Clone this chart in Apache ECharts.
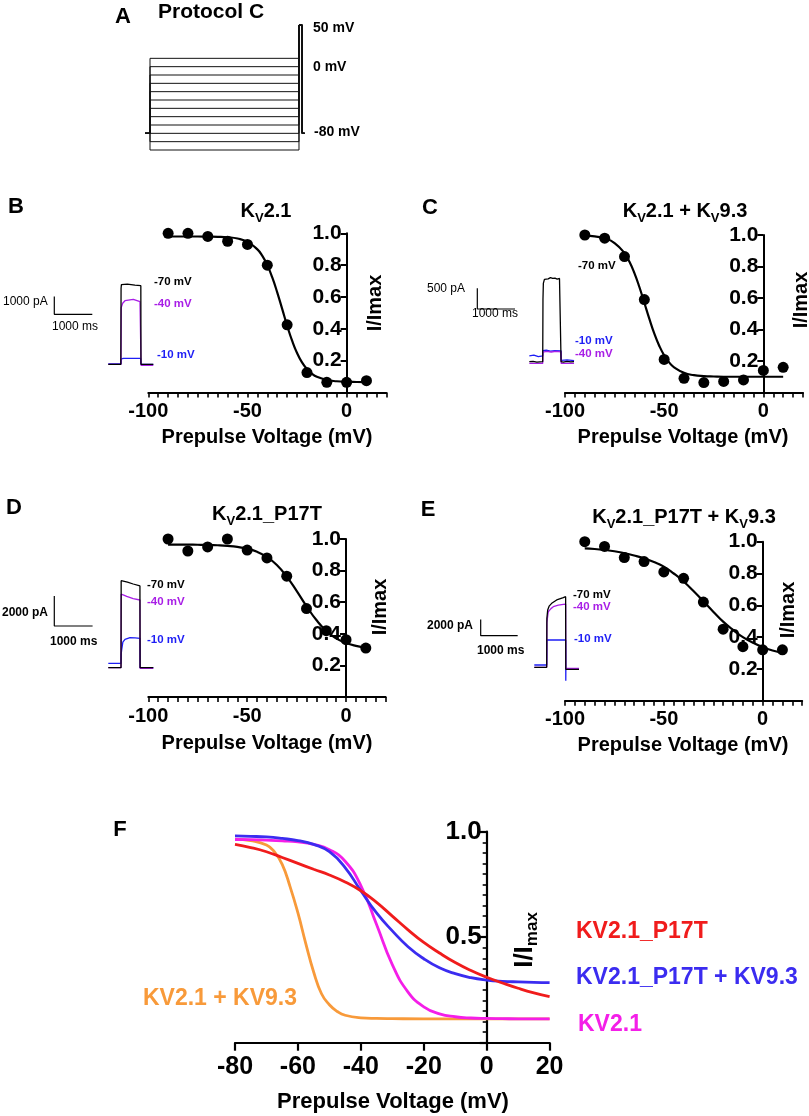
<!DOCTYPE html>
<html><head><meta charset="utf-8">
<script src="https://cdn.jsdelivr.net/npm/echarts@6.0.0/dist/echarts.min.js"></script>
<style>html,body{margin:0;padding:0;background:#fff}#c{width:809px;height:1116px}</style>
</head><body><div id="c"></div>
<script>
// ---------------- DATA ----------------
// Panel A protocol (mV, ms)
const protocolV = [10, 0, -10, -20, -30, -40, -50, -60, -70, -80, -90, -100];
const holdingV = -80;
const testV = 50;
const protocolT = [0, 167, 5133, 5240, 5320]; // hold start, prepulse start, prepulse end, test end, end

// Prepulse voltages of measured points (mV)
const prepulseV = [-90, -80, -70, -60, -50, -40, -30, -20, -10, 0, 10];
const B_points = [1.00, 1.00, 0.98, 0.95, 0.93, 0.80, 0.425, 0.125, 0.064, 0.064, 0.074];
const C_points = [1.00, 0.98, 0.863, 0.59, 0.21, 0.09, 0.063, 0.07, 0.08, 0.14, 0.16];
const D_points = [1.00, 0.924, 0.95, 1.00, 0.93, 0.88, 0.765, 0.56, 0.42, 0.363, 0.31];
const E_points = [1.00, 0.97, 0.90, 0.875, 0.81, 0.77, 0.62, 0.45, 0.34, 0.32, 0.32];

// Fit curves
const B_fitV = [-90,-85,-80,-75,-70,-65,-60,-55,-50,-45,-42.5,-40,-37.5,-35,-32.5,-30,-27.5,-25,-22.5,-20,-17.5,-15,-10,-5,0,5,10];
const B_fitI = [0.98,0.98,0.98,0.98,0.979,0.978,0.975,0.967,0.946,0.899,0.858,0.80,0.723,0.629,0.525,0.42,0.326,0.248,0.189,0.147,0.118,0.099,0.079,0.0705,0.067,0.066,0.065];
const C_fitV = [-90,-85,-80,-75,-70,-67.5,-65,-62.5,-60,-57.5,-55,-52.5,-50,-47.5,-45,-40,-35,-30,-25,-20,-10,0,10];
const C_fitI = [0.9965,0.991,0.979,0.949,0.884,0.83,0.758,0.67,0.57,0.469,0.375,0.297,0.236,0.191,0.16,0.125,0.11,0.104,0.1015,0.10,0.10,0.10,0.10];
const D_fitV = [-90,-85,-80,-75,-70,-65,-60,-55,-50,-45,-40,-35,-30,-25,-20,-15,-10,-5,0,5,10];
const D_fitI = [0.965,0.9645,0.964,0.9635,0.9625,0.9603,0.9565,0.95,0.938,0.919,0.886,0.835,0.762,0.672,0.575,0.487,0.418,0.371,0.342,0.324,0.313];
const E_fitV = [-90,-85,-80,-75,-70,-65,-60,-55,-50,-45,-40,-35,-30,-25,-20,-15,-10,-5,0,5,10];
const E_fitI = [0.958,0.954,0.948,0.94,0.928,0.913,0.895,0.872,0.843,0.80,0.75,0.69,0.625,0.56,0.497,0.445,0.40,0.365,0.337,0.316,0.302];

// Current traces (time ms, current pA)
const B_trBlack  = [[0,0],[330,0],[336,4300],[345,4500],[360,4576],[500,4530],[700,4470],[856,4440],[860,0],[1184,0]];
const B_trPurple = [[0,0],[334,0],[340,3200],[378,3446],[439,3593],[658,3672],[834,3537],[858,3500],[862,-60],[1184,-60]];
const B_trBlue   = [[0,20],[334,20],[340,300],[400,339],[850,335],[860,0],[1184,0]];
const B_bar = {t0: -1421, i0: 2825, ms: 1000, pA: 1000};

const C_trBlue   = [[0,140],[120,160],[240,125],[355,140],[360,265],[450,280],[560,255],[680,270],[841,262],[845,30],[1000,45],[1186,25]];
const C_trPurple = [[0,-40],[355,-40],[360,230],[460,250],[580,235],[700,252],[841,240],[845,-40],[1186,-40]];
const C_trBlack  = [[0,0],[100,10],[200,-10],[355,0],[362,1500],[372,1890],[400,1990],[440,2020],[500,2000],[560,2030],[620,2010],[680,2020],[740,1995],[800,2010],[838,1990],[842,0],[900,-10],[1000,10],[1100,-5],[1186,0]];
const C_bar = {t0: -1379, i0: 1273, ms: 1000, pA: 500};

const D_trBlue   = [[0,290],[332,290],[336,900],[349,1180],[380,1700],[436,1890],[567,2000],[700,1990],[826,1960],[830,0],[1175,0]];
const D_trPurple = [[0,0],[332,0],[336,4900],[376,4950],[420,4820],[480,4750],[650,4600],[826,4513],[830,-50],[1175,-50]];
const D_trBlack  = [[0,0],[332,0],[336,5800],[345,5850],[500,5700],[650,5580],[826,5450],[830,0],[1175,0]];
const D_bar = {t0: -1410, i0: 2780, ms: 1000, pA: 2000};

const E_trBlue   = [[0,280],[335,280],[338,3350],[849,3350],[851,-1640],[853,-200],[1208,-200]];
const E_trPurple = [[0,0],[335,0],[340,5500],[378,6820],[450,7200],[514,7430],[650,7620],[784,7730],[847,7760],[851,-150],[1208,-150]];
const E_trBlack  = [[0,0],[335,0],[340,6000],[362,7030],[400,7500],[470,7850],[605,8260],[784,8540],[847,8660],[851,-250],[1208,-250]];
const E_bar = {t0: -1449, i0: 3877, ms: 1000, pA: 2000};

// Panel F summary curves
const F_orangeV = [-80,-75,-70,-67.5,-65,-62.5,-60,-57.5,-55,-52.5,-50,-47.5,-45,-40,-35,-30,-20,-10,0,10,20];
const F_orangeI = [0.965,0.958,0.937,0.905,0.845,0.74,0.615,0.47,0.335,0.232,0.18,0.148,0.13,0.118,0.115,0.114,0.113,0.113,0.113,0.113,0.113];
const F_V = [-80,-75,-70,-65,-60,-55,-50,-45,-40,-35,-30,-25,-20,-15,-10,-5,0,5,10,15,20];
const F_magentaI = [0.963,0.962,0.96,0.957,0.952,0.94,0.915,0.86,0.745,0.56,0.37,0.24,0.17,0.137,0.123,0.117,0.115,0.114,0.113,0.113,0.113];
const F_blueI    = [0.98,0.978,0.975,0.968,0.958,0.94,0.905,0.83,0.72,0.615,0.53,0.455,0.398,0.355,0.327,0.308,0.297,0.291,0.288,0.286,0.285];
const F_redI     = [0.94,0.925,0.905,0.878,0.85,0.822,0.795,0.762,0.72,0.665,0.6,0.535,0.475,0.425,0.38,0.342,0.31,0.283,0.258,0.236,0.218];

// ---------------- STYLE / LAYOUT ----------------
const FONT = '"Liberation Sans", Arial, Helvetica, sans-serif';
const BLK = '#000';
const PURPLE = '#a81ee6';
const TBLUE = '#1e1ef5';
const RED = '#f01c1c', BLUE = '#3b2cf0', MAGENTA = '#f41ee8', ORANGE = '#f89a3a';

const zip = (a, b) => a.map((v, i) => [v, b[i]]);

const grids = [], xAxes = [], yAxes = [], series = [];

function addGrid(g, xa, ya) {
  grids.push(Object.assign({containLabel: false}, g));
  const gi = grids.length - 1;
  xAxes.push(Object.assign({gridIndex: gi, type: 'value'}, xa));
  yAxes.push(Object.assign({gridIndex: gi, type: 'value'}, ya));
  return gi;
}
const hidden = {show: false};

// Panel A
{
  const gi = addGrid({left: 145, top: 25, width: 159, height: 125},
    Object.assign({min: 0, max: 5300}, hidden), Object.assign({min: -100, max: 50}, hidden));
  protocolV.forEach(v => {
    const t = protocolT;
    series.push({type: 'line', xAxisIndex: gi, yAxisIndex: gi, symbol: 'none', silent: true,
      lineStyle: {color: '#111', width: 1}, clip: false,
      data: [[t[0], holdingV], [t[1], holdingV], [t[1], v], [t[2], v], [t[2], testV], [t[3], testV], [t[3], holdingV], [t[4], holdingV]]});
  });
}

function ivPanel(g, pts, fitV, fitI) {
  const gi = addGrid(g, {
    min: -100, max: 20, interval: 5,
    axisLine: {onZero: false, lineStyle: {color: BLK, width: 2}},
    axisTick: {length: 5, lineStyle: {color: BLK, width: 1.6}},
    axisLabel: {fontSize: 20, fontWeight: 'bold', color: BLK, fontFamily: FONT, margin: 9,
      formatter: v => (v % 50 === 0 ? String(v) : '')},
    splitLine: {show: false}
  }, {
    min: 0, max: 1, interval: 0.2, position: 'left', offset: -(g.width * 100 / 120),
    axisLine: {show: true, onZero: false, lineStyle: {color: BLK, width: 2}},
    axisTick: {show: true, length: 6, lineStyle: {color: BLK, width: 2}},
    axisLabel: {fontSize: 21, fontWeight: 'bold', color: BLK, fontFamily: FONT, margin: 5,
      formatter: v => (v === 0 ? '' : v.toFixed(1))},
    splitLine: {show: false}
  });
  series.push({type: 'line', xAxisIndex: gi, yAxisIndex: gi, symbol: 'none', smooth: 0.5,
    lineStyle: {color: BLK, width: 2.2}, data: zip(fitV, fitI), z: 3});
  series.push({type: 'scatter', xAxisIndex: gi, yAxisIndex: gi, symbol: 'circle', symbolSize: 11,
    itemStyle: {color: BLK, opacity: 1}, data: zip(prepulseV, pts), z: 4});
}

function tracePanel(g, xr, yr, traces, bar) {
  const gi = addGrid(g, Object.assign({min: xr[0], max: xr[1]}, hidden), Object.assign({min: yr[0], max: yr[1]}, hidden));
  traces.forEach(([d, c]) => series.push({type: 'line', xAxisIndex: gi, yAxisIndex: gi, symbol: 'none',
    lineStyle: {color: c, width: 1.3}, data: d}));
  series.push({type: 'line', xAxisIndex: gi, yAxisIndex: gi, symbol: 'none', lineStyle: {color: BLK, width: 1.2},
    data: [[bar.t0, bar.i0 + bar.pA], [bar.t0, bar.i0], [bar.t0 + bar.ms, bar.i0]]});
}

ivPanel({left: 148.3, top: 233.3, width: 238, height: 159.2}, B_points, B_fitV, B_fitI);
tracePanel({left: 51.3, top: 275.8, width: 106.4, height: 97.35}, [-1500, 1300], [-500, 5000],
  [[B_trBlue, TBLUE], [B_trPurple, PURPLE], [B_trBlack, BLK]], B_bar);

ivPanel({left: 565, top: 235, width: 238, height: 157.5}, C_points, C_fitV, C_fitI);
tracePanel({left: 472.75, top: 270.6, width: 105.6, height: 99.4}, [-1500, 1300], [-200, 2200],
  [[C_trBlue, TBLUE], [C_trPurple, PURPLE], [C_trBlack, BLK]], C_bar);

ivPanel({left: 148.3, top: 539, width: 237.3, height: 158}, D_points, D_fitV, D_fitI);
tracePanel({left: 50.85, top: 570.2, width: 107.24, height: 105}, [-1500, 1300], [-500, 6500],
  [[D_trBlue, TBLUE], [D_trPurple, PURPLE], [D_trBlack, BLK]], D_bar);

ivPanel({left: 565, top: 541.7, width: 237.2, height: 159}, E_points, E_fitV, E_fitI);
tracePanel({left: 475.1, top: 593.95, width: 107.3, height: 89.65}, [-1600, 1300], [-2000, 9000],
  [[E_trBlue, TBLUE], [E_trPurple, PURPLE], [E_trBlack, BLK]], E_bar);

// Panel F
{
  const g = {left: 235, top: 831.7, width: 314.6, height: 211};
  const gi = addGrid(g, {
    min: -80, max: 20, interval: 20,
    axisLine: {onZero: false, lineStyle: {color: BLK, width: 2.2}},
    axisTick: {length: 8, lineStyle: {color: BLK, width: 2.2}},
    axisLabel: {fontSize: 25, fontWeight: 'bold', color: BLK, fontFamily: FONT, margin: 12},
    splitLine: {show: false}
  }, {
    min: 0, max: 1, interval: 0.5, position: 'left', offset: -(g.width * 80 / 100),
    axisLine: {show: true, onZero: false, lineStyle: {color: BLK, width: 2.2}},
    axisTick: {show: true, length: 7, lineStyle: {color: BLK, width: 2.2}},
    minorTick: {show: true, splitNumber: 10, length: 4, lineStyle: {color: BLK, width: 1.6}},
    axisLabel: {fontSize: 26, fontWeight: 'bold', color: BLK, fontFamily: FONT, margin: 5,
      formatter: v => (v === 0 ? '' : v.toFixed(1))},
    splitLine: {show: false}, minorSplitLine: {show: false}
  });
  const curve = (d, c) => series.push({type: 'line', xAxisIndex: gi, yAxisIndex: gi, symbol: 'none', smooth: 0.5,
    lineStyle: {color: c, width: 2.8}, data: d});
  curve(zip(F_orangeV, F_orangeI), ORANGE);
  curve(zip(F_V, F_magentaI), MAGENTA);
  curve(zip(F_V, F_blueI), BLUE);
  curve(zip(F_V, F_redI), RED);
}

// ---------------- TEXT ----------------
const graphic = [];
function T(x, y, text, o = {}) {
  graphic.push({type: 'text', x, y, rotation: o.rot || 0, silent: true, z: 100,
    style: {text, fill: o.color || BLK, fontSize: o.size || 12, fontWeight: o.weight || 'normal',
      fontFamily: FONT, align: o.align || 'left', verticalAlign: 'middle', rich: o.rich}});
}
const B = 'bold';
// panel letters
T(123, 17, 'A', {size: 22, weight: B, align: 'center'});
T(16, 207, 'B', {size: 22, weight: B, align: 'center'});
T(430, 208, 'C', {size: 22, weight: B, align: 'center'});
T(14, 508, 'D', {size: 22, weight: B, align: 'center'});
T(428, 510, 'E', {size: 22, weight: B, align: 'center'});
T(120, 830, 'F', {size: 22, weight: B, align: 'center'});
// panel A
T(158, 12, 'Protocol C', {size: 21, weight: B});
T(313, 28, '50 mV', {size: 14, weight: B});
T(313, 67, '0 mV', {size: 14, weight: B});
T(314, 132, '-80 mV', {size: 14, weight: B});
// titles with subscript
const titleRich = {
  a: {fontSize: 20, fontWeight: 'bold', fontFamily: FONT, lineHeight: 24},
  s: {fontSize: 13, fontWeight: 'bold', fontFamily: FONT, lineHeight: 13, padding: [15, 0, 0, 0]}
};
T(266, 211, '{a|K}{s|V}{a|2.1}', {rich: titleRich, align: 'center'});
T(685, 211, '{a|K}{s|V}{a|2.1 + K}{s|V}{a|9.3}', {rich: titleRich, align: 'center'});
T(267, 514, '{a|K}{s|V}{a|2.1_P17T}', {rich: titleRich, align: 'center'});
T(684, 517, '{a|K}{s|V}{a|2.1_P17T + K}{s|V}{a|9.3}', {rich: titleRich, align: 'center'});
// axis names
[[375, 303], [801, 300], [380, 607], [788, 610]].forEach(([x, y]) =>
  T(x, y, 'I/Imax', {size: 20, weight: B, align: 'center', rot: Math.PI / 2}));
[[267, 437], [683, 437], [267, 743], [683, 745]].forEach(([x, y]) =>
  T(x, y, 'Prepulse Voltage (mV)', {size: 20, weight: B, align: 'center'}));
// scale bar texts
T(3, 302, '1000 pA'); T(52, 327, '1000 ms');
T(427, 289, '500 pA'); T(472, 314, '1000 ms');
T(2, 613, '2000 pA', {weight: B}); T(50, 642, '1000 ms', {weight: B});
T(427, 626, '2000 pA', {weight: B}); T(477, 651, '1000 ms', {weight: B});
// trace labels
const tl = (x, y, s, c) => T(x, y, s, {size: 11.5, weight: B, color: c});
tl(154, 282, '-70 mV', BLK); tl(154, 304, '-40 mV', PURPLE); tl(157, 355, '-10 mV', TBLUE);
tl(578, 266, '-70 mV', BLK); tl(575, 341, '-10 mV', TBLUE); tl(575, 354, '-40 mV', PURPLE);
tl(147, 585, '-70 mV', BLK); tl(147, 602, '-40 mV', PURPLE); tl(147, 640, '-10 mV', TBLUE);
tl(573, 595, '-70 mV', BLK); tl(573, 607, '-40 mV', PURPLE); tl(574, 639, '-10 mV', TBLUE);
// panel F texts
T(525, 940, '{a|I/I}{s|max}', {align: 'center', rot: Math.PI / 2, rich: {
  a: {fontSize: 26, fontWeight: 'bold', fontFamily: FONT, lineHeight: 30},
  s: {fontSize: 17, fontWeight: 'bold', fontFamily: FONT, lineHeight: 17, padding: [15, 0, 0, 0]}}});
T(393, 1102, 'Prepulse Voltage (mV)', {size: 22, weight: B, align: 'center'});
T(576, 932, 'KV2.1_P17T', {size: 23, weight: B, color: RED});
T(576, 978, 'KV2.1_P17T + KV9.3', {size: 23, weight: B, color: BLUE});
T(578, 1025, 'KV2.1', {size: 23, weight: B, color: MAGENTA});
T(297, 999, 'KV2.1 + KV9.3', {size: 23, weight: B, color: ORANGE, align: 'right'});

const chart = echarts.init(document.getElementById('c'), null, {renderer: 'canvas'});
chart.setOption({
  animation: false,
  backgroundColor: '#fff',
  grid: grids, xAxis: xAxes, yAxis: yAxes, series, graphic
});
</script></body></html>
